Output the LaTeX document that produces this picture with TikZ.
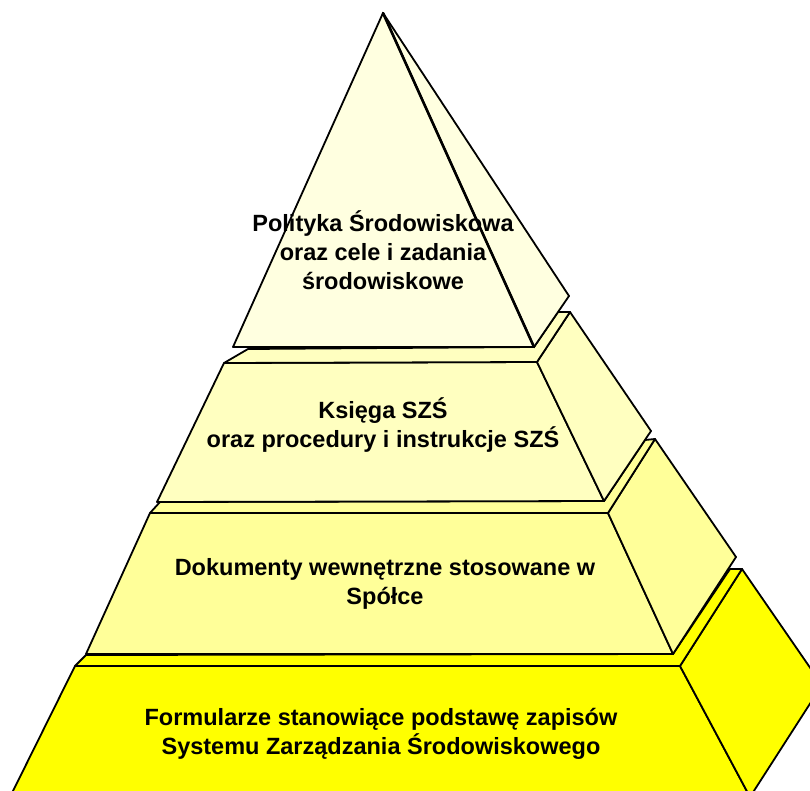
\documentclass[tikz,border=0pt]{standalone}
\usepackage{fontspec}
\setmainfont{Liberation Sans}
\definecolor{cOne}{RGB}{255,255,224}
\definecolor{cTwo}{RGB}{255,255,192}
\definecolor{cThree}{RGB}{255,255,153}
\definecolor{cFour}{RGB}{255,255,0}
\tikzset{
  face/.style={draw=black,line width=1.8pt,line join=round},
  lbl/.style={align=center,font=\bfseries\fontsize{23.5}{29}\selectfont,text=black,inner sep=0pt}
}
\begin{document}
\begin{tikzpicture}[x=1pt,y=-1pt]
\useasboundingbox (0,0) rectangle (810,791);
\clip (0,0) rectangle (810,791);
% ---------- level 4 ----------
\coordinate (d-ftl) at (75,666);
\coordinate (d-ftr) at (680,666);
\coordinate (d-fbr) at (750,797);
\coordinate (d-fbl) at (10,797);
\coordinate (d-btr) at (742,569);
\coordinate (d-bbr) at (822,685);
\coordinate (d-bl) at (86,655);
\coordinate (d-p) at (730,569);
% ---------- level 3 ----------
\coordinate (c-ftl) at (150,513);
\coordinate (c-ftr) at (608,513);
\coordinate (c-fbr) at (673,654);
\coordinate (c-fbl) at (86,654);
\coordinate (c-btr) at (655,439);
\coordinate (c-bbr) at (736,557);
\coordinate (c-bl) at (160,502);
\coordinate (c-p) at (645,440);
% ---------- level 2 ----------
\coordinate (b-ftl) at (224,363);
\coordinate (b-ftr) at (537,362);
\coordinate (b-fbr) at (604,501);
\coordinate (b-fbl) at (157,502);
\coordinate (b-btr) at (570,312);
\coordinate (b-bbr) at (651,431);
\coordinate (b-bl) at (248,349);
\coordinate (b-p) at (558,312);
% ---------- pyramid ----------
\coordinate (a-top) at (383,13);
\coordinate (a-bl) at (233,347);
\coordinate (a-br) at (534,347);
\coordinate (a-r) at (569,296);

% level 4 faces
\filldraw[face,fill=cFour] (d-ftl) -- (d-ftr) -- (d-fbr) -- (d-fbl) -- cycle;
\filldraw[face,fill=cFour] (d-ftr) -- (d-btr) -- (d-bbr) -- (d-fbr) -- cycle;
\filldraw[face,fill=cFour] (d-ftl) -- (d-bl) -- (c-fbr) -- (d-p) -- (d-btr) -- (d-ftr) -- cycle;
% level 3 faces
\filldraw[face,fill=cThree] (c-ftl) -- (c-ftr) -- (c-fbr) -- (c-fbl) -- cycle;
\filldraw[face,fill=cThree] (c-ftr) -- (c-btr) -- (c-bbr) -- (c-fbr) -- cycle;
\filldraw[face,fill=cThree] (c-ftl) -- (c-bl) -- (b-fbr) -- (c-p) -- (c-btr) -- (c-ftr) -- cycle;
% level 2 faces
\filldraw[face,fill=cTwo] (b-ftl) -- (b-ftr) -- (b-fbr) -- (b-fbl) -- cycle;
\filldraw[face,fill=cTwo] (b-ftr) -- (b-btr) -- (b-bbr) -- (b-fbr) -- cycle;
\filldraw[face,fill=cTwo] (b-ftl) -- (b-bl) -- (a-br) -- (b-p) -- (b-btr) -- (b-ftr) -- cycle;
% pyramid
\filldraw[face,fill=cOne] (a-top) -- (a-r) -- (a-br) -- cycle;
\filldraw[face,fill=cOne] (a-top) -- (a-bl) -- (a-br) -- cycle;
\draw[line width=2.6pt,line cap=round] (a-top) -- (a-br);

% labels
\node[lbl] (t1) at (383,250) {Polityka Środowiskowa\\oraz cele i zadania\\środowiskowe};
\node[lbl] (t2) at (383,425) {Księga SZŚ\\oraz procedury i instrukcje SZŚ};
\node[lbl] (t3) at (385,584) {Dokumenty wewnętrzne stosowane w\\Spółce};
\node[lbl] (t4) at (381,734) {Formularze stanowiące podstawę zapisów\\Systemu Zarządzania Środowiskowego};
\end{tikzpicture}
\end{document}
